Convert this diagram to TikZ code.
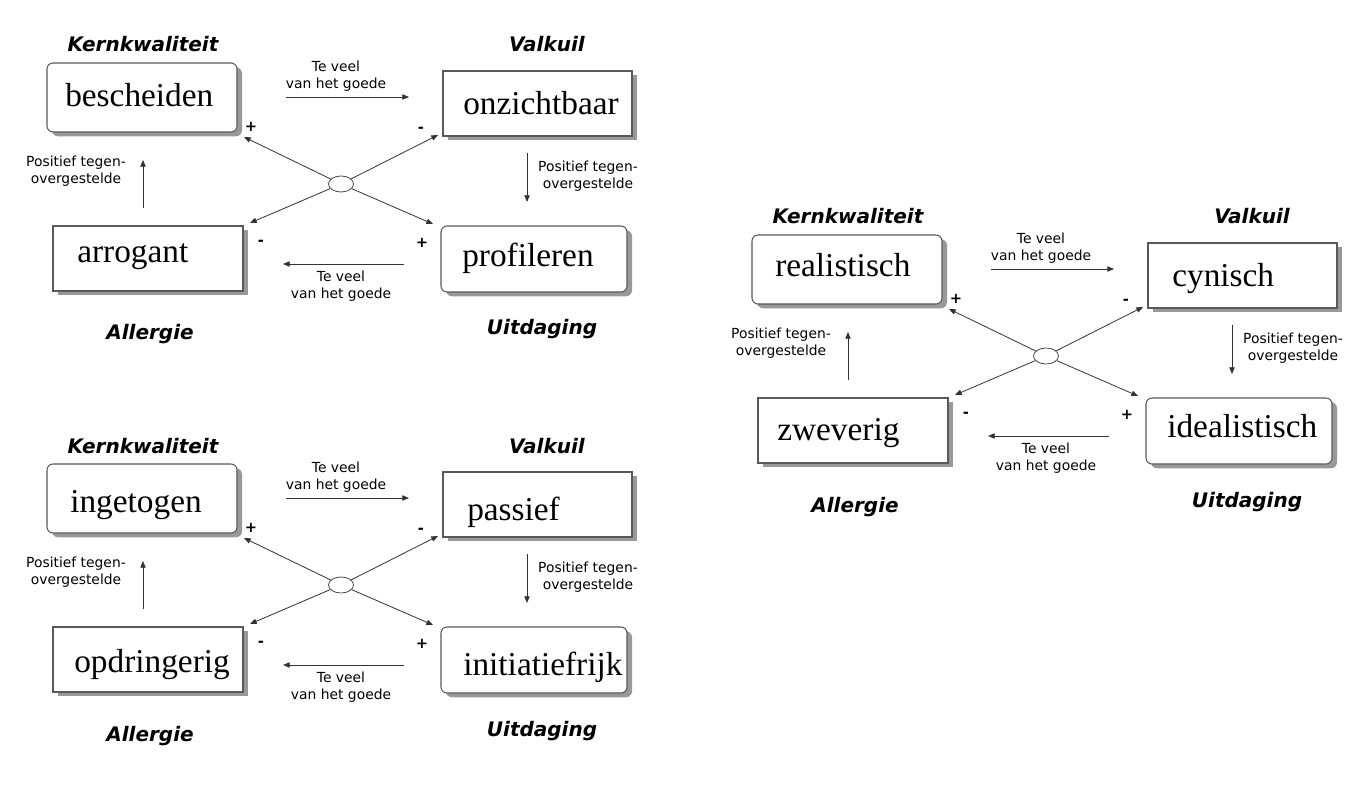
\documentclass[tikz,border=0pt]{standalone}
\usepackage{fontspec}
\setmainfont{Liberation Serif}
\newfontfamily\cfont{DejaVu Sans}
\usetikzlibrary{arrows.meta,shadows,shapes.geometric}

\tikzset{
 box/.style={draw=black!65, line width=0.8pt, fill=white, inner sep=0pt,
   drop shadow={fill=black!40, opacity=1, shadow xshift=3.75pt, shadow yshift=-3.2pt}},
 rbox/.style={box, rounded corners=4.5pt},
 word/.style={anchor=base west, inner sep=0pt, font=\fontsize{25}{30}\selectfont},
 head/.style={anchor=base, inner sep=0pt, font=\cfont\bfseries\itshape\fontsize{15}{18}\selectfont},
 note/.style={align=center, inner sep=0pt, font=\cfont\fontsize{10.4}{13}\selectfont},
 sign/.style={inner sep=0pt, font=\cfont\bfseries\fontsize{11}{12}\selectfont},
 arr/.style={draw=black!80, line width=0.6pt, -{Triangle[length=5pt,width=4pt]}},
 hub/.style={draw=black!70, line width=0.6pt, ellipse, minimum width=18.75pt, minimum height=12pt, inner sep=0pt},
}

\newcommand\quadrant[3]{%
\begin{scope}[shift={(#2,#3)}, name prefix=#1-]
 \node[head] (hk) at (143,52) {Kernkwaliteit};
 \node[head] (hv) at (547,52) {Valkuil};
 \node[head] (ha) at (150,340) {Allergie};
 \node[head] (hu) at (542,335) {Uitdaging};
 \node[rbox, minimum width=142.5pt, minimum height=51.75pt] (kw) at (142,97.5) {};
 \node[box, minimum width=141.75pt, minimum height=48.75pt] (vk) at (537.5,103.5) {};
 \node[box, minimum width=142.5pt, minimum height=48.75pt] (al) at (148,258.5) {};
 \node[rbox, minimum width=139.5pt, minimum height=49.5pt] (ui) at (534,259) {};
 \node[word] (wkw) at (\kwx,\kwy) {\kwword};
 \node[word] (wvk) at (\vkx,\vky) {\vkword};
 \node[word] (wal) at (\alx,\aly) {\alword};
 \node[word] (wui) at (\uix,\uiy) {\uiword};
 \node[hub] (hub) at (341,184) {};
 \coordinate (tul) at (244,137);
 \coordinate (tur) at (438,135);
 \coordinate (tll) at (250,223);
 \coordinate (tlr) at (433,224);
 \draw[arr] (hub) -- (tul);
 \draw[arr] (hub) -- (tur);
 \draw[arr] (hub) -- (tll);
 \draw[arr] (hub) -- (tlr);
 \node[sign] (s1) at (251,127) {+};
 \node[sign] (s2) at (421,130) {-};
 \node[sign] (s3) at (261,243) {-};
 \node[sign] (s4) at (422,243) {+};
 \node[note] (n1) at (336,76.5) {Te veel\\van het goede};
 \coordinate (a1s) at (286,97);
 \coordinate (a1e) at (409,97);
 \draw[arr] (a1s) -- (a1e);
 \node[note] (n2) at (341,286) {Te veel\\van het goede};
 \coordinate (a2s) at (404,264);
 \coordinate (a2e) at (283,264);
 \draw[arr] (a2s) -- (a2e);
 \node[note] (n3) at (76,171.5) {Positief tegen-\\overgestelde};
 \coordinate (a3s) at (143,208);
 \coordinate (a3e) at (143,160);
 \draw[arr] (a3s) -- (a3e);
 \node[note] (n4) at (588,176) {Positief tegen-\\overgestelde};
 \coordinate (a4s) at (527,153);
 \coordinate (a4e) at (527,202);
 \draw[arr] (a4s) -- (a4e);
\end{scope}}

\begin{document}
\begin{tikzpicture}[x=0.75pt,y=-0.75pt]
 \fill[white] (0,0) rectangle (1351,787);
 \useasboundingbox (0,0) rectangle (1351,787);
 % diagram 1
 \def\kwword{bescheiden}\def\kwx{65}\def\kwy{107}
 \def\vkword{onzichtbaar}\def\vkx{463}\def\vky{115}
 \def\alword{arrogant}\def\alx{77}\def\aly{263}
 \def\uiword{profileren}\def\uix{462}\def\uiy{267}
 \quadrant{A}{0}{0}
 % diagram 2
 \def\kwword{ingetogen}\def\kwx{70}\def\kwy{111}
 \def\vkword{passief}\def\vkx{467}\def\vky{119}
 \def\alword{opdringerig}\def\alx{74}\def\aly{271}
 \def\uiword{initiatiefrijk}\def\uix{463}\def\uiy{274}
 \quadrant{B}{0}{401}
 % diagram 3
 \def\kwword{realistisch}\def\kwx{70}\def\kwy{105}
 \def\vkword{cynisch}\def\vkx{467}\def\vky{115}
 \def\alword{zweverig}\def\alx{72}\def\aly{268}
 \def\uiword{idealistisch}\def\uix{462}\def\uiy{265}
 \quadrant{C}{705}{172}
\end{tikzpicture}
\end{document}
